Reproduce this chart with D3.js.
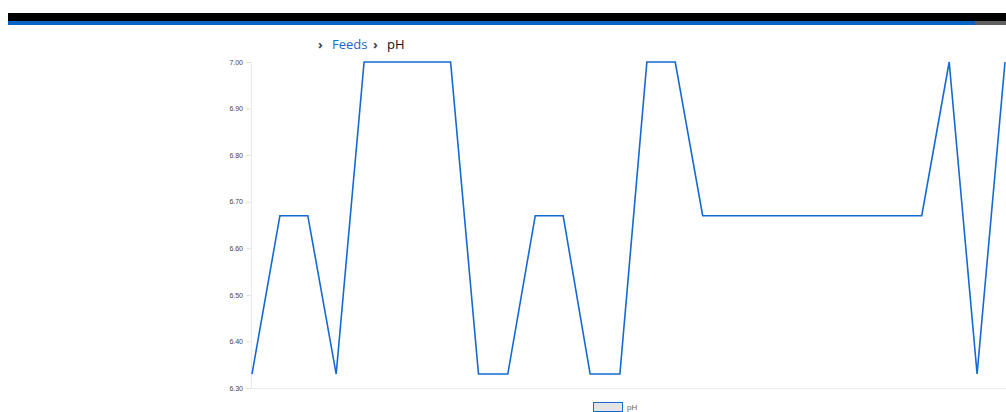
<!DOCTYPE html>
<html>
<head>
<meta charset="utf-8">
<script src="https://cdn.jsdelivr.net/npm/d3@7"></script>
<style>
  body { margin: 0; background: #fff; overflow: hidden; }
  svg { display: block; font-family: "DejaVu Sans", Verdana, sans-serif; }
</style>
</head>
<body>
<div id="chart"></div>
<script>
// reading times (seconds from first reading) and pH values
const times = [0, 60, 120, 181, 241, 301, 362, 427, 487, 550, 609, 669, 727, 791,
  849, 910, 969, 1028, 1087, 1146, 1205, 1264, 1323, 1381, 1440, 1499, 1559, 1619];
const phValues = [6.33, 6.67, 6.67, 6.33, 7.00, 7.00, 7.00, 7.00, 6.33, 6.33, 6.67, 6.67, 6.33, 6.33,
  7.00, 7.00, 6.67, 6.67, 6.67, 6.67, 6.67, 6.67, 6.67, 6.67, 6.67, 7.00, 6.33, 7.00];
const yTicks = [6.30, 6.40, 6.50, 6.60, 6.70, 6.80, 6.90, 7.00];
const crumbs = ['Feeds', 'pH'];
const seriesName = 'pH';

const width = 1006, height = 412;
const plot = { left: 251, right: 1005, top: 62, bottom: 388 };

const svg = d3.select('#chart').append('svg')
  .attr('width', width)
  .attr('height', height);

// header bar
svg.append('rect').attr('x', 8).attr('y', 13).attr('width', width - 8).attr('height', 8).attr('fill', '#000');
svg.append('rect').attr('x', 8).attr('y', 21).attr('width', 967).attr('height', 4).attr('fill', '#0a64c8');
svg.append('rect').attr('x', 975).attr('y', 21).attr('width', width - 975).attr('height', 4).attr('fill', '#5f5f5f');

// breadcrumb
const crumbFont = '"Open Sans", "DejaVu Sans", sans-serif';
svg.append('text').attr('x', 318).attr('y', 49).attr('fill', '#444')
  .style('font-size', '13px').style('font-weight', 'bold').style('font-family', crumbFont).text('›');
svg.append('text').attr('x', 332).attr('y', 49).attr('fill', '#1a66c4')
  .style('font-size', '13px').style('font-family', crumbFont).text(crumbs[0]);
svg.append('text').attr('x', 373).attr('y', 49).attr('fill', '#444')
  .style('font-size', '13px').style('font-weight', 'bold').style('font-family', crumbFont).text('›');
svg.append('text').attr('x', 387).attr('y', 49).attr('fill', '#111')
  .style('font-size', '13px').style('font-family', crumbFont).text(crumbs[1]);

const x = d3.scaleLinear()
  .domain(d3.extent(times))
  .range([plot.left + 1, plot.right]);

const y = d3.scaleLinear()
  .domain([6.30, 7.00])
  .range([plot.bottom, plot.top]);

// y axis
const yAxis = svg.append('g')
  .attr('transform', `translate(${plot.left},0)`)
  .call(d3.axisLeft(y).tickValues(yTicks).tickFormat(d3.format('.2f')).tickSize(5).tickPadding(3));
yAxis.select('.domain').attr('stroke', '#e8e8e8');
yAxis.selectAll('.tick line').attr('stroke', '#e0e0e0');
yAxis.selectAll('.tick text').attr('fill', '#444').style('font-size', '7px').style('font-family', '"Liberation Sans", Arial, sans-serif');

// bottom axis line
svg.append('line')
  .attr('x1', plot.left).attr('x2', width)
  .attr('y1', plot.bottom + 0.5).attr('y2', plot.bottom + 0.5)
  .attr('stroke', '#ececec');

// series line
const data = times.map((t, i) => ({ t: t, v: phValues[i] }));
svg.append('path')
  .datum(data)
  .attr('fill', 'none')
  .attr('stroke', '#1469d2')
  .attr('stroke-width', 1.6)
  .attr('d', d3.line().x(d => x(d.t)).y(d => y(d.v)));

// legend
svg.append('rect')
  .attr('x', 593.5).attr('y', 402.5).attr('width', 29).attr('height', 9)
  .attr('fill', '#e4e4e4').attr('stroke', '#1469d2').attr('stroke-width', 1);
svg.append('text')
  .attr('x', 627).attr('y', 410)
  .attr('fill', '#666')
  .style('font-size', '8px')
  .style('font-family', '"Liberation Sans", Arial, sans-serif')
  .text(seriesName);
</script>
</body>
</html>
